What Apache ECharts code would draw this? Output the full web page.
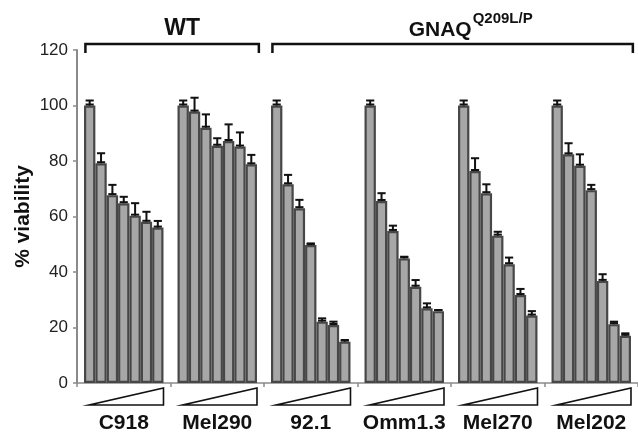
<!DOCTYPE html>
<html>
<head>
<meta charset="utf-8">
<script src="https://cdn.jsdelivr.net/npm/echarts@6/dist/echarts.min.js"></script>
<style>html,body{margin:0;padding:0;background:#fff;}#chart{width:638px;height:435px;}</style>
</head>
<body>
<div id="chart"></div>
<script>
// ---- data ----
const cellLines = ['C918', 'Mel290', '92.1', 'Omm1.3', 'Mel270', 'Mel202'];
const yTicks = [0, 20, 40, 60, 80, 100, 120];
// % viability for 7 increasing doses, per cell line
const viabC918   = [100, 79.2, 67.7, 64.8, 60.3, 58.1, 56.0];
const viabMel290 = [100, 97.8, 92.0, 85.5, 87.2, 85.2, 78.8];
const viab921    = [100, 71.6, 63.0, 49.7, 22.1, 20.9, 14.9];
const viabOmm13  = [100, 65.6, 54.8, 44.9, 34.7, 26.9, 25.9];
const viabMel270 = [100, 76.4, 68.4, 53.1, 42.8, 31.7, 24.3];
const viabMel202 = [100, 82.4, 78.3, 69.5, 36.8, 21.2, 17.0];
// error (SD) values
const errC918   = [1.8, 3.6, 3.7, 2.3, 4.5, 3.6, 2.4];
const errMel290 = [1.8, 5.0, 4.8, 2.7, 6.0, 5.1, 3.4];
const err921    = [1.8, 3.4, 3.0, 0.6, 1.2, 1.2, 0.6];
const errOmm13  = [1.8, 2.8, 1.9, 0.6, 2.4, 1.8, 0.4];
const errMel270 = [1.8, 4.6, 3.2, 1.4, 2.4, 2.2, 1.6];
const errMel202 = [1.8, 4.0, 4.1, 1.9, 2.4, 0.9, 0.9];
// genotype groups (brackets above the chart)
const groupMain  = ['WT', 'GNAQ'];
const groupSup   = ['', 'Q209L/P'];
const groupStart = [0, 2];
const groupEnd   = [1, 5];

const viab = [viabC918, viabMel290, viab921, viabOmm13, viabMel270, viabMel202];
const errs = [errC918, errMel290, err921, errOmm13, errMel270, errMel202];
const nDose = 7;
const catGap = 0.15;
const FONT = 'Liberation Sans, Arial, Helvetica, sans-serif';

const series = [];
for (let d = 0; d < nDose; d++) {
  series.push({
    type: 'bar',
    name: 'dose' + (d + 1),
    data: viab.map(v => v[d]),
    barGap: '0%',
    barCategoryGap: (catGap * 100) + '%',
    itemStyle: { color: '#a7a7a7', borderColor: '#474747', borderWidth: 2.2 },
    emphasis: { disabled: true },
    silent: true,
    z: 2
  });
}
for (let d = 0; d < nDose; d++) {
  series.push({
    type: 'custom',
    name: 'err' + (d + 1),
    silent: true,
    z: 5,
    data: viab.map((v, c) => [c, v[d], errs[c][d]]),
    encode: { x: 0, y: 1 },
    renderItem: function (params, api) {
      const c = api.value(0), v = api.value(1), e = api.value(2);
      const catW = api.size([1, 0])[0];
      const barW = catW * (1 - catGap) / nDose;
      const base = api.coord([c, v]);
      const top = api.coord([c, v + e]);
      const x = base[0] + (d - (nDose - 1) / 2) * barW;
      const hw = barW * 0.36;
      const st = { stroke: '#111', lineWidth: 2 };
      return { type: 'group', children: [
        { type: 'line', shape: { x1: x, y1: base[1], x2: x, y2: top[1] }, style: st },
        { type: 'line', shape: { x1: x - hw, y1: top[1], x2: x + hw, y2: top[1] }, style: st },
        { type: 'line', shape: { x1: x - hw, y1: base[1] - 1, x2: x + hw, y2: base[1] - 1 }, style: st }
      ]};
    }
  });
}
// dose wedges under each cell line
series.push({
  type: 'custom',
  silent: true,
  clip: false,
  data: cellLines.map((n, i) => [i, 0]),
  encode: { x: 0, y: 1 },
  renderItem: function (params, api) {
    const p = api.coord([api.value(0), 0]);
    const w = api.size([1, 0])[0];
    const xl = p[0] - 0.37 * w, xr = p[0] + 0.425 * w;
    const yb = p[1] + 22, yt = p[1] + 5;
    return { type: 'polygon', shape: { points: [[xl, yb], [xr, yb], [xr, yt]] },
      style: { fill: '#fff', stroke: '#111', lineWidth: 1.6 } };
  }
});
// genotype brackets + labels
series.push({
  type: 'custom',
  silent: true,
  clip: false,
  data: groupMain.map((g, i) => [groupStart[i], 120, groupEnd[i], i]),
  encode: { x: 0, y: 1 },
  renderItem: function (params, api) {
    const s = api.value(0), e = api.value(2), gi = api.value(3);
    const w = api.size([1, 0])[0];
    const ps = api.coord([s, 120]), pe = api.coord([e, 120]);
    const x1 = ps[0] - 0.41 * w, x2 = pe[0] + 0.445 * w;
    const yl = ps[1] - 6, ye = ps[1] + 3;
    const st = { stroke: '#111', lineWidth: 2.5, fill: null };
    const children = [
      { type: 'polyline', shape: { points: [[x1, ye], [x1, yl], [x2, yl], [x2, ye]] }, style: st }
    ];
    const cx = (x1 + x2) / 2;
    if (!groupSup[gi]) {
      children.push({ type: 'text', x: cx + 10, y: ps[1] - 21,
        style: { text: groupMain[gi], font: 'bold 23px ' + FONT, fill: '#111', align: 'center', verticalAlign: 'middle' } });
    } else {
      const ax = cx + 19;
      children.push({ type: 'text', x: ax, y: ps[1] - 20,
        style: { text: groupMain[gi], font: 'bold 21px ' + FONT, fill: '#111', align: 'right', verticalAlign: 'middle' } });
      children.push({ type: 'text', x: ax + 1, y: ps[1] - 31,
        style: { text: groupSup[gi], font: 'bold 15px ' + FONT, fill: '#111', align: 'left', verticalAlign: 'middle' } });
    }
    return { type: 'group', children: children };
  }
});

const chart = echarts.init(document.getElementById('chart'), null, { renderer: 'canvas' });
chart.setOption({
  animation: false,
  backgroundColor: '#fff',
  grid: { left: 77, top: 50, width: 563, height: 333, containLabel: false },
  xAxis: {
    type: 'category',
    data: cellLines,
    axisLine: { show: true, lineStyle: { color: '#8a8a8a', width: 1.5 } },
    axisTick: { show: true, length: 4, lineStyle: { color: '#8a8a8a', width: 1.5 } },
    axisLabel: { margin: 30, color: '#111', fontSize: 21, fontWeight: 'bold', fontFamily: FONT, interval: 0 },
    splitLine: { show: false }
  },
  yAxis: {
    type: 'value',
    min: yTicks[0],
    max: yTicks[yTicks.length - 1],
    interval: 20,
    name: '% viability',
    nameLocation: 'middle',
    nameGap: 43,
    nameMoveOverlap: false,
    nameTextStyle: { fontSize: 21, fontWeight: 'bold', color: '#111', fontFamily: FONT },
    axisLine: { show: true, lineStyle: { color: '#8a8a8a', width: 2 } },
    axisTick: { show: true, length: 4, lineStyle: { color: '#8a8a8a', width: 1.5 } },
    axisLabel: { margin: 9, color: '#222', fontSize: 17, fontFamily: FONT },
    splitLine: { show: false }
  },
  series: series
});
</script>
</body>
</html>
